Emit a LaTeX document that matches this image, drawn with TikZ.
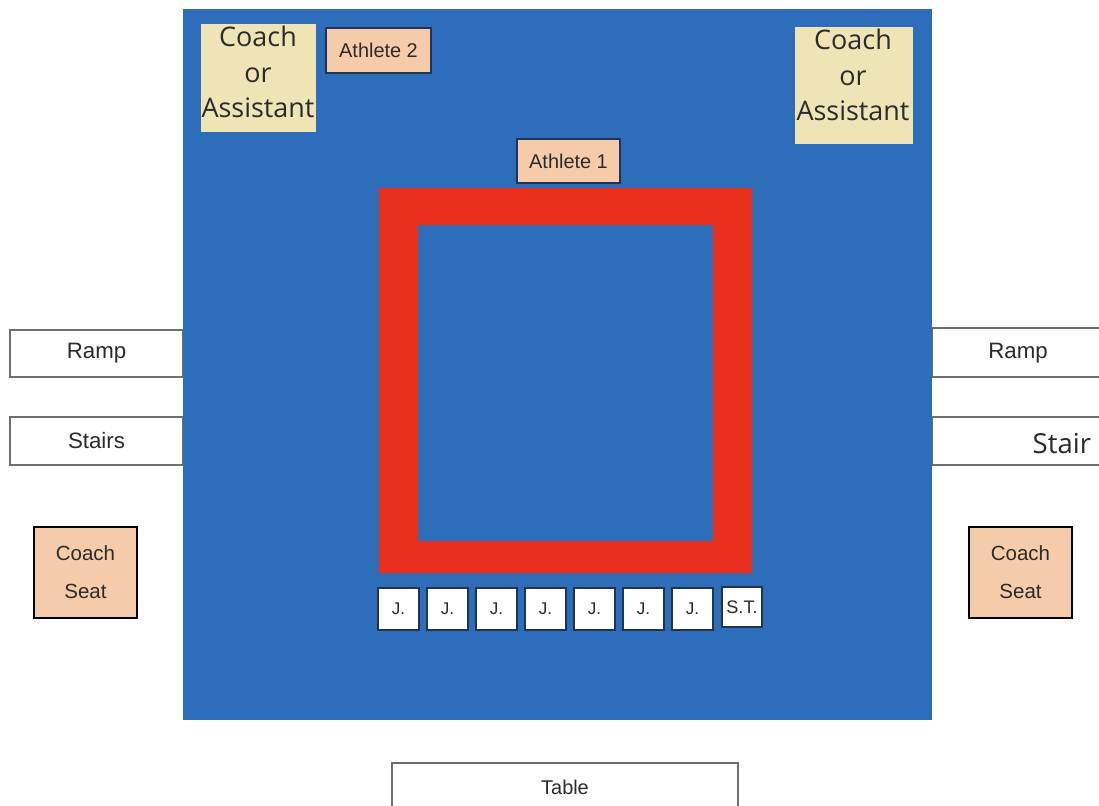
\documentclass[tikz,border=0pt]{standalone}
\usepackage{fontspec}
\setmainfont{Liberation Sans}
\newfontfamily\osans{Open Sans}
\definecolor{matblue}{HTML}{2E6DB9}
\definecolor{ringred}{HTML}{E9301F}
\definecolor{beige}{HTML}{EFE4B6}
\definecolor{peach}{HTML}{F6CBAA}
\definecolor{navy}{HTML}{1F3355}
\definecolor{txt}{HTML}{2B2B2B}
\definecolor{edgegray}{HTML}{6E6E6E}
\begin{document}
\begin{tikzpicture}[x=0.03cm,y=-0.03cm,
  every node/.style={inner sep=0pt, outer sep=0pt, text=txt},
  span/.style n args={4}{at={({(#1+#3)/2},{(#2+#4)/2})},
     minimum width={(#3-#1)*0.03cm}, minimum height={(#4-#2)*0.03cm}},
  sidebox/.style={draw=edgegray, line width=1.1pt, fill=white, font=\fontsize{19}{22}\selectfont},
  tablebox/.style={draw=edgegray, line width=1.1pt, fill=white, font=\fontsize{17}{20}\selectfont},
  athbox/.style={draw=navy, line width=0.9pt, fill=peach, font=\fontsize{17}{20}\selectfont},
  coachbox/.style={fill=beige},
  coachtext/.style={align=center, font=\osans\fontsize{23}{30}\selectfont},
  seatbox/.style={draw=black, line width=1.9pt, fill=peach, align=center, font=\fontsize{17.5}{32.4}\selectfont},
  judgebox/.style={draw=navy, line width=0.9pt, fill=white, font=\fontsize{14.5}{17}\selectfont},
  stbox/.style={draw=navy, line width=0.9pt, fill=white, font=\fontsize{15.5}{17}\selectfont}]
\clip (0,0) rectangle (1099,805);
\fill[white] (0,0) rectangle (1099,805);
% side boxes (under the mat)
\node[sidebox, span={10}{330}{183}{377}] (rampL) {Ramp};
\node[sidebox, span={10}{417}{183}{465}] (stairsL) {Stairs};
\node[sidebox, span={932}{328}{1110}{377}] (rampR) {};
\node[font=\fontsize{19}{22}\selectfont] (rampRt) at (1018,353) {Ramp};
\node[sidebox, span={932}{417}{1110}{465}] (stairR) {};
\node[anchor=base east, font=\osans\fontsize{23.5}{28}\selectfont] (stairRt) at (1091,453) {Stair};
% mat
\node[fill=matblue, span={183}{9}{932}{720}] (mat) {};
% red square
\fill[ringred, even odd rule] (379,188) rectangle (752,573) (418,225) rectangle (713,541);
% coaches / assistants
\node[coachbox, span={201}{24}{316}{132}] (coachL) {};
\node[coachtext] (coachLt) at (258,72) {Coach\\or\\Assistant};
\node[coachbox, span={795}{27}{913}{144}] (coachR) {};
\node[coachtext] (coachRt) at (853,75) {Coach\\or\\Assistant};
% athletes
\node[athbox, span={326}{28}{431}{73}] (ath2) {Athlete 2};
\node[athbox, span={517}{139}{620}{183}] (ath1) {Athlete 1};
% coach seats
\node[seatbox, span={34}{527}{137}{618}] (seatL) {Coach\\Seat};
\node[seatbox, span={969}{527}{1072}{618}] (seatR) {Coach\\Seat};
% judges
\foreach \x [count=\i] in {378,427,476,525,574,623,672}
  \node[judgebox, span={\x}{588}{\x+41}{630}] (j\i) {J.};
\node[stbox, span={722}{587}{762}{627}] (st) {S.T.};
% table
\node[tablebox, span={392}{763}{738}{811}] (table) {};
\node[font=\fontsize{17}{20}\selectfont] (tablet) at (565,787) {Table};
\end{tikzpicture}
\end{document}
